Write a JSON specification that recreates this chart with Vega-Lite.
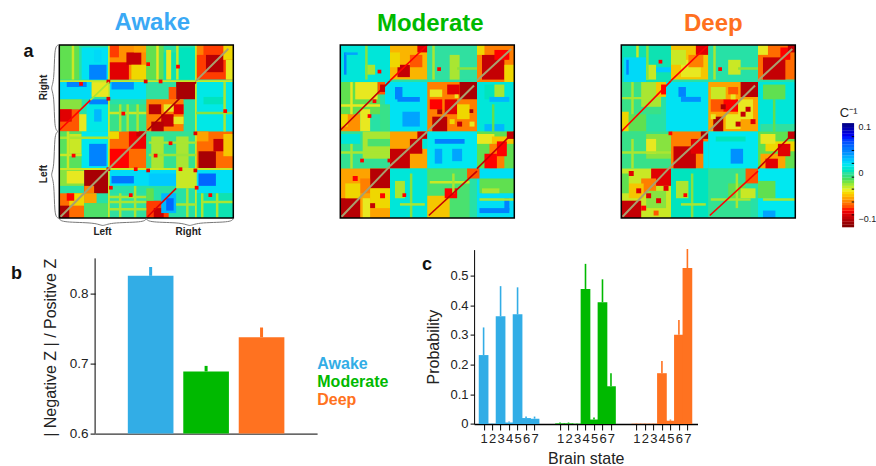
{"$schema":"https://vega.github.io/schema/vega-lite/v6.json","padding":{"left":10.3,"top":11,"right":70,"bottom":40},"background":"white","bounds":"flush","spacing":204.6,"resolve":{"scale":{"color":"independent"}},"config":{"font":"Liberation Sans","view":{"stroke":null},"axis":{"grid":false,"domainColor":"black","tickColor":"black","labelColor":"#222","titleColor":"#222","titleFontWeight":"normal","labelOverlap":false},"title":{"fontWeight":"bold"}},
"datasets":{
"braces":[{"b":"a","i":0,"x":0,"y":70.3},{"b":"a","i":1,"x":1,"y":71.8},{"b":"a","i":2,"x":15,"y":71.8},{"b":"a","i":3,"x":17.5,"y":73.6},{"b":"a","i":4,"x":20,"y":71.8},{"b":"a","i":5,"x":34,"y":71.8},{"b":"a","i":6,"x":35,"y":70.3},{"b":"b","i":0,"x":35,"y":70.3},{"b":"b","i":1,"x":36,"y":71.8},{"b":"b","i":2,"x":50,"y":71.8},{"b":"b","i":3,"x":52.5,"y":73.6},{"b":"b","i":4,"x":55,"y":71.8},{"b":"b","i":5,"x":69,"y":71.8},{"b":"b","i":6,"x":70,"y":70.3},{"b":"c","i":0,"x":-0.5,"y":0},{"b":"c","i":1,"x":-2,"y":1},{"b":"c","i":2,"x":-2,"y":15},{"b":"c","i":3,"x":-3.6,"y":17.5},{"b":"c","i":4,"x":-2,"y":20},{"b":"c","i":5,"x":-2,"y":34},{"b":"c","i":6,"x":-0.5,"y":35},{"b":"d","i":0,"x":-0.5,"y":35},{"b":"d","i":1,"x":-2,"y":36},{"b":"d","i":2,"x":-2,"y":50},{"b":"d","i":3,"x":-3.6,"y":52.5},{"b":"d","i":4,"x":-2,"y":55},{"b":"d","i":5,"x":-2,"y":69},{"b":"d","i":6,"x":-0.5,"y":70}],
"frame":[{"x":0,"x2":70,"y":0,"y2":70}],
"cbar":[{"y":-11.9,"y2":-11.25,"v":-11.6},{"y":-11.3,"y2":-10.65,"v":-11},{"y":-10.7,"y2":-10.05,"v":-10.4},{"y":-10.1,"y2":-9.45,"v":-9.8},{"y":-9.5,"y2":-8.85,"v":-9.2},{"y":-8.9,"y2":-8.25,"v":-8.6},{"y":-8.3,"y2":-7.65,"v":-8},{"y":-7.7,"y2":-7.05,"v":-7.4},{"y":-7.1,"y2":-6.45,"v":-6.8},{"y":-6.5,"y2":-5.85,"v":-6.2},{"y":-5.9,"y2":-5.25,"v":-5.6},{"y":-5.3,"y2":-4.65,"v":-5},{"y":-4.7,"y2":-4.05,"v":-4.4},{"y":-4.1,"y2":-3.45,"v":-3.8},{"y":-3.5,"y2":-2.85,"v":-3.2},{"y":-2.9,"y2":-2.25,"v":-2.6},{"y":-2.3,"y2":-1.65,"v":-2},{"y":-1.7,"y2":-1.05,"v":-1.4},{"y":-1.1,"y2":-0.45,"v":-0.8},{"y":-0.5,"y2":0.15,"v":-0.2},{"y":0.1,"y2":0.75,"v":0.4},{"y":0.7,"y2":1.35,"v":1},{"y":1.3,"y2":1.95,"v":1.6},{"y":1.9,"y2":2.55,"v":2.2},{"y":2.5,"y2":3.15,"v":2.8},{"y":3.1,"y2":3.75,"v":3.4},{"y":3.7,"y2":4.35,"v":4},{"y":4.3,"y2":4.95,"v":4.6},{"y":4.9,"y2":5.55,"v":5.2},{"y":5.5,"y2":6.15,"v":5.8},{"y":6.1,"y2":6.75,"v":6.4},{"y":6.7,"y2":7.35,"v":7},{"y":7.3,"y2":7.95,"v":7.6},{"y":7.9,"y2":8.55,"v":8.2},{"y":8.5,"y2":9.15,"v":8.8},{"y":9.1,"y2":9.75,"v":9.4},{"y":9.7,"y2":10.35,"v":10},{"y":10.3,"y2":10.75,"v":10.5}],
"cticks":[{"x":0.8,"x2":1,"y":7.8},{"x":0.8,"x2":1,"y":4.8},{"x":0.8,"x2":1,"y":2},{"x":0.8,"x2":1,"y":-1},{"x":0.8,"x2":1,"y":-3.6},{"x":0.8,"x2":1,"y":-6.4},{"x":0.8,"x2":1,"y":-9.2}],
"awake":[{"x":0,"x2":70,"y":0,"y2":70,"v":0.6},{"x":0,"x2":8,"y":0,"y2":14,"v":-1},{"x":9,"x2":20,"y":1,"y2":14,"v":2.2},{"x":12,"x2":19,"y":8,"y2":14,"v":5},{"x":14,"x2":17,"y":2,"y2":7,"v":2.5},{"x":20,"x2":35,"y":0,"y2":14,"v":-5.5},{"x":20,"x2":28,"y":7,"y2":14,"v":-9},{"x":27,"x2":33,"y":3,"y2":8,"v":-10},{"x":30,"x2":35,"y":0,"y2":3,"v":-5},{"x":29,"x2":35,"y":8,"y2":14,"v":-3.5},{"x":20,"x2":24,"y":0,"y2":5,"v":-7.5},{"x":35,"x2":42,"y":0,"y2":14,"v":-1},{"x":42,"x2":47,"y":3,"y2":14,"v":0.8},{"x":47,"x2":55,"y":1,"y2":14,"v":1},{"x":43,"x2":45,"y":2,"y2":14,"v":-3},{"x":55,"x2":70,"y":0,"y2":14,"v":-7.5},{"x":59,"x2":66,"y":4,"y2":11,"v":-10.5},{"x":66,"x2":70,"y":0,"y2":6,"v":-3.5},{"x":55,"x2":58,"y":0,"y2":4,"v":-6},{"x":67,"x2":70,"y":6,"y2":14,"v":-3},{"x":0,"x2":13,"y":15,"y2":22,"v":2.4},{"x":3,"x2":11,"y":15,"y2":17,"v":5},{"x":13,"x2":20,"y":15,"y2":21,"v":-3},{"x":20,"x2":35,"y":15,"y2":22,"v":2.2},{"x":21,"x2":30,"y":15,"y2":18,"v":4.5},{"x":35,"x2":47,"y":15,"y2":22,"v":0.5},{"x":47,"x2":55,"y":15,"y2":22,"v":-11},{"x":44,"x2":47,"y":17,"y2":24,"v":-7},{"x":55,"x2":70,"y":15,"y2":35,"v":1.8},{"x":58,"x2":66,"y":21,"y2":24,"v":1},{"x":0,"x2":9,"y":22,"y2":26,"v":-1.5},{"x":0,"x2":8,"y":26,"y2":35,"v":-7},{"x":0,"x2":5,"y":26,"y2":31,"v":-9},{"x":8,"x2":11,"y":28,"y2":35,"v":-3},{"x":11,"x2":20,"y":23,"y2":35,"v":1.8},{"x":12,"x2":20,"y":22,"y2":24,"v":5},{"x":14,"x2":17,"y":26,"y2":31,"v":3.5},{"x":20,"x2":35,"y":24,"y2":35,"v":0},{"x":20,"x2":35,"y":27,"y2":28,"v":-2.5},{"x":27,"x2":28,"y":24,"y2":35,"v":-2},{"x":35,"x2":50,"y":22,"y2":35,"v":-6},{"x":36,"x2":41,"y":24,"y2":28,"v":-10.5},{"x":41,"x2":46,"y":28,"y2":33,"v":-10},{"x":37,"x2":42,"y":31,"y2":35,"v":-10.5},{"x":46,"x2":50,"y":24,"y2":28,"v":-9},{"x":42,"x2":46,"y":24,"y2":27,"v":-3},{"x":46,"x2":50,"y":29,"y2":32,"v":-3},{"x":0,"x2":9,"y":35,"y2":50,"v":-0.8},{"x":4,"x2":9,"y":36,"y2":44,"v":-2.5},{"x":9,"x2":20,"y":35,"y2":50,"v":2},{"x":12,"x2":19,"y":40,"y2":49,"v":5},{"x":20,"x2":35,"y":35,"y2":50,"v":-6.5},{"x":20,"x2":28,"y":42,"y2":50,"v":-8},{"x":28,"x2":35,"y":35,"y2":42,"v":-8.5},{"x":31,"x2":35,"y":35,"y2":37,"v":-10},{"x":20,"x2":24,"y":35,"y2":38,"v":-3.5},{"x":35,"x2":55,"y":35,"y2":50,"v":0.2},{"x":37,"x2":42,"y":37,"y2":50,"v":-2},{"x":47,"x2":52,"y":37,"y2":50,"v":-2},{"x":55,"x2":70,"y":35,"y2":50,"v":-6.5},{"x":56,"x2":63,"y":43,"y2":50,"v":-11},{"x":62,"x2":67,"y":38,"y2":43,"v":-10},{"x":55,"x2":60,"y":35,"y2":39,"v":-5},{"x":66,"x2":70,"y":36,"y2":45,"v":-4},{"x":0,"x2":10,"y":50,"y2":57,"v":-1.5},{"x":3,"x2":10,"y":51,"y2":56,"v":-3},{"x":10,"x2":20,"y":50,"y2":60,"v":-11},{"x":10,"x2":14,"y":57,"y2":60,"v":-6},{"x":20,"x2":47,"y":50,"y2":57,"v":2.4},{"x":21,"x2":30,"y":53,"y2":56,"v":5.5},{"x":36,"x2":47,"y":52,"y2":57,"v":3},{"x":47,"x2":55,"y":50,"y2":58,"v":-2.5},{"x":55,"x2":70,"y":50,"y2":60,"v":2.3},{"x":56,"x2":63,"y":52,"y2":57,"v":6},{"x":0,"x2":10,"y":60,"y2":70,"v":-6.5},{"x":0,"x2":4,"y":65,"y2":70,"v":-11},{"x":4,"x2":10,"y":60,"y2":65,"v":-3.5},{"x":3,"x2":6,"y":60,"y2":63,"v":-8},{"x":10,"x2":15,"y":60,"y2":64,"v":-5},{"x":10,"x2":20,"y":64,"y2":70,"v":-0.6},{"x":20,"x2":35,"y":60,"y2":70,"v":0.5},{"x":20,"x2":35,"y":61,"y2":62,"v":-2},{"x":35,"x2":44,"y":63,"y2":70,"v":-7.5},{"x":38,"x2":42,"y":66,"y2":70,"v":-10},{"x":35,"x2":38,"y":58,"y2":63,"v":-1},{"x":41,"x2":47,"y":60,"y2":68,"v":3.5},{"x":43,"x2":46,"y":62,"y2":67,"v":6},{"x":55,"x2":70,"y":60,"y2":70,"v":0.8},{"x":57,"x2":58,"y":60,"y2":70,"v":-2},{"x":0,"x2":70,"y":14.3,"y2":15,"v":-2.5},{"x":0,"x2":70,"y":49.8,"y2":50.6,"v":-2.5},{"x":19.6,"x2":20.3,"y":0,"y2":70,"v":-2.5},{"x":54.6,"x2":55.3,"y":0,"y2":70,"v":-2.5},{"x":0,"x2":20,"y":37,"y2":38,"v":-2},{"x":0,"x2":9,"y":44,"y2":45,"v":-2.5},{"x":36,"x2":55,"y":39,"y2":40,"v":-2},{"x":36,"x2":55,"y":44,"y2":45,"v":-1.8},{"x":55,"x2":70,"y":27,"y2":28,"v":-1.5},{"x":20,"x2":35,"y":63,"y2":64,"v":-2},{"x":20,"x2":35,"y":66,"y2":67,"v":-2},{"x":47,"x2":55,"y":64,"y2":65,"v":-2},{"x":57,"x2":70,"y":63,"y2":64,"v":-2},{"x":24,"x2":25,"y":60,"y2":70,"v":-2},{"x":30,"x2":31,"y":57,"y2":70,"v":-2},{"x":51,"x2":52,"y":58,"y2":70,"v":-2},{"x":63,"x2":64,"y":60,"y2":70,"v":-2},{"x":39,"x2":40,"y":0,"y2":14,"v":-3},{"x":47,"x2":48,"y":0,"y2":14,"v":-2.5},{"x":5,"x2":6,"y":0,"y2":14,"v":-2.5},{"x":3,"x2":4,"y":35,"y2":50,"v":-2.5},{"x":24,"x2":25,"y":24,"y2":35,"v":-2},{"x":31,"x2":32,"y":24,"y2":35,"v":-2},{"x":66,"x2":67,"y":15,"y2":35,"v":-2},{"x":19,"x2":20.5,"y":14,"y2":15.5,"v":-9},{"x":19,"x2":20.5,"y":21,"y2":22.5,"v":-9},{"x":34,"x2":35.5,"y":14,"y2":15.5,"v":-9},{"x":40,"x2":41.5,"y":14,"y2":15.5,"v":-8},{"x":19,"x2":20.5,"y":49.5,"y2":51,"v":-9},{"x":30,"x2":31.5,"y":49.5,"y2":51,"v":-8},{"x":35,"x2":36.5,"y":50,"y2":51.5,"v":-9},{"x":48,"x2":49.5,"y":49.5,"y2":51,"v":-8},{"x":54,"x2":55.5,"y":35,"y2":36.5,"v":-9},{"x":54,"x2":55.5,"y":50,"y2":51.5,"v":-9},{"x":54.5,"x2":56,"y":57,"y2":58.5,"v":-8},{"x":28,"x2":29.5,"y":60,"y2":61.5,"v":-8},{"x":20,"x2":21.5,"y":57,"y2":58.5,"v":-8},{"x":8,"x2":9.5,"y":15,"y2":16.5,"v":-8},{"x":47,"x2":48.5,"y":8,"y2":9.5,"v":-8},{"x":35,"x2":36.5,"y":7,"y2":8.5,"v":-8},{"x":60,"x2":61.5,"y":60,"y2":61.5,"v":-8},{"x":66,"x2":67.5,"y":26,"y2":27.5,"v":-8},{"x":25,"x2":26.5,"y":27,"y2":28.5,"v":-8},{"x":5,"x2":6.5,"y":44,"y2":45.5,"v":-8},{"x":38,"x2":39.5,"y":44,"y2":45.5,"v":-8},{"x":44,"x2":45.5,"y":39,"y2":40.5,"v":-8}],
"awakeDiag":[{"x":0,"y":34.5,"x2":12.5,"y2":22.3,"v":-8},{"x":35.5,"y":69.5,"x2":47,"y2":58,"v":-9},{"x":35.5,"y":34.5,"x2":55,"y2":15,"v":-11},{"x":12.5,"y":22.3,"x2":20,"y2":15,"v":-2}],
"awakeGray":[{"x":0.5,"y":69.5,"x2":20,"y2":50},{"x":20,"y":50,"x2":35,"y2":35},{"x":55,"y":14.5,"x2":68,"y2":1.5}],
"moderate":[{"x":0,"x2":70,"y":0,"y2":70,"v":0.6},{"x":0,"x2":20,"y":0,"y2":15,"v":1.5},{"x":1.5,"x2":2.5,"y":3,"y2":12,"v":5},{"x":2,"x2":7,"y":3,"y2":4,"v":4},{"x":10,"x2":14,"y":8,"y2":12,"v":-2},{"x":20,"x2":35,"y":0,"y2":14,"v":-4.5},{"x":23,"x2":28,"y":8,"y2":13,"v":-10},{"x":28,"x2":33,"y":4,"y2":9,"v":-7},{"x":31,"x2":35,"y":0,"y2":3,"v":-9},{"x":20,"x2":24,"y":3,"y2":9,"v":-3.5},{"x":35,"x2":55,"y":0,"y2":14,"v":0.5},{"x":44,"x2":48,"y":4,"y2":14,"v":-2},{"x":55,"x2":70,"y":0,"y2":15,"v":-6},{"x":57,"x2":66,"y":4,"y2":14,"v":-10},{"x":62,"x2":68,"y":2,"y2":6,"v":-8},{"x":55,"x2":58,"y":0,"y2":4,"v":-3.5},{"x":66,"x2":70,"y":8,"y2":15,"v":-3.5},{"x":0,"x2":16,"y":15,"y2":28,"v":-1},{"x":6,"x2":15,"y":15,"y2":22,"v":-3},{"x":15,"x2":20,"y":15,"y2":20,"v":-7},{"x":16,"x2":19,"y":16,"y2":19,"v":-10},{"x":0,"x2":8,"y":28,"y2":35,"v":-5.5},{"x":0,"x2":3,"y":28,"y2":33,"v":-3.5},{"x":8,"x2":12,"y":26,"y2":35,"v":-3},{"x":18,"x2":35,"y":15,"y2":35,"v":2.2},{"x":22,"x2":25,"y":17,"y2":22,"v":5},{"x":23,"x2":32,"y":21,"y2":23,"v":5},{"x":25,"x2":32,"y":27,"y2":33,"v":4},{"x":16,"x2":20,"y":24,"y2":35,"v":0},{"x":35,"x2":55,"y":15,"y2":35,"v":-6},{"x":48,"x2":55,"y":15,"y2":22,"v":-11},{"x":37,"x2":43,"y":29,"y2":35,"v":-10.5},{"x":42,"x2":47,"y":22,"y2":28,"v":-9},{"x":36,"x2":41,"y":18,"y2":21,"v":-3},{"x":43,"x2":48,"y":16,"y2":20,"v":-9},{"x":47,"x2":52,"y":24,"y2":30,"v":-3.5},{"x":36,"x2":41,"y":22,"y2":26,"v":-8},{"x":55,"x2":70,"y":15,"y2":35,"v":1.5},{"x":58,"x2":66,"y":16,"y2":22,"v":1},{"x":60,"x2":68,"y":21,"y2":23,"v":3.5},{"x":62,"x2":66,"y":16,"y2":21,"v":-2},{"x":58,"x2":66,"y":32,"y2":35,"v":3.5},{"x":0,"x2":20,"y":35,"y2":50,"v":0.2},{"x":9,"x2":20,"y":35,"y2":46,"v":-2},{"x":11,"x2":20,"y":38,"y2":41,"v":-0.5},{"x":0,"x2":8,"y":36,"y2":40,"v":1.5},{"x":20,"x2":35,"y":35,"y2":50,"v":-5},{"x":20,"x2":28,"y":42,"y2":50,"v":-10},{"x":28,"x2":33,"y":38,"y2":44,"v":-10},{"x":31,"x2":35,"y":35,"y2":38,"v":-10},{"x":33,"x2":35,"y":38,"y2":42,"v":1.5},{"x":35,"x2":55,"y":35,"y2":50,"v":2},{"x":38,"x2":50,"y":38,"y2":40,"v":5},{"x":38,"x2":41,"y":42,"y2":48,"v":4},{"x":45,"x2":49,"y":42,"y2":47,"v":4},{"x":55,"x2":70,"y":35,"y2":50,"v":-1},{"x":55,"x2":62,"y":36,"y2":40,"v":-3},{"x":61,"x2":70,"y":37,"y2":40,"v":-4},{"x":60,"x2":66,"y":40,"y2":50,"v":-6},{"x":63,"x2":67,"y":39,"y2":45,"v":-8},{"x":58,"x2":63,"y":44,"y2":50,"v":-8},{"x":67,"x2":70,"y":35,"y2":38,"v":-10},{"x":0,"x2":20,"y":50,"y2":70,"v":-5},{"x":12,"x2":20,"y":50,"y2":58,"v":-10.5},{"x":0,"x2":8,"y":62,"y2":70,"v":-10.5},{"x":8,"x2":12,"y":54,"y2":60,"v":-6},{"x":2,"x2":8,"y":56,"y2":62,"v":-3.5},{"x":12,"x2":20,"y":58,"y2":66,"v":-3.5},{"x":9,"x2":12,"y":62,"y2":70,"v":-3},{"x":20,"x2":35,"y":50,"y2":70,"v":1.5},{"x":22,"x2":26,"y":55,"y2":62,"v":-2},{"x":35,"x2":52,"y":50,"y2":70,"v":-0.5},{"x":35,"x2":44,"y":61,"y2":70,"v":-4},{"x":42,"x2":47,"y":58,"y2":62,"v":-8},{"x":55,"x2":70,"y":50,"y2":70,"v":2.3},{"x":51,"x2":56,"y":50,"y2":54,"v":-7},{"x":56,"x2":70,"y":54,"y2":60,"v":-1},{"x":57,"x2":64,"y":58,"y2":60,"v":-2},{"x":56,"x2":68,"y":66,"y2":68,"v":5},{"x":66,"x2":68,"y":62,"y2":67,"v":5},{"x":10,"x2":11,"y":0,"y2":14,"v":-1.5},{"x":37,"x2":38,"y":0,"y2":14,"v":-2},{"x":47,"x2":55,"y":9,"y2":10,"v":-1.5},{"x":0,"x2":16,"y":24,"y2":25,"v":-3},{"x":4,"x2":5,"y":15,"y2":28,"v":-3},{"x":61,"x2":62,"y":24,"y2":35,"v":-1},{"x":0,"x2":20,"y":43,"y2":44,"v":-2},{"x":4,"x2":5,"y":40,"y2":50,"v":-2},{"x":56,"x2":70,"y":62,"y2":63,"v":-2},{"x":36,"x2":52,"y":55,"y2":56,"v":-2.5},{"x":45,"x2":46,"y":52,"y2":60,"v":-2},{"x":28,"x2":29,"y":52,"y2":70,"v":-1.5},{"x":24,"x2":34,"y":64,"y2":65,"v":-2},{"x":13,"x2":14.5,"y":22,"y2":23.5,"v":-8},{"x":19,"x2":20.5,"y":46,"y2":47.5,"v":-9},{"x":11,"x2":12.5,"y":28,"y2":29.5,"v":-8},{"x":25,"x2":26.5,"y":60,"y2":61.5,"v":-8},{"x":8,"x2":9.5,"y":46,"y2":47.5,"v":-8},{"x":39,"x2":40.5,"y":9,"y2":10.5,"v":-8},{"x":15,"x2":16.5,"y":10,"y2":11.5,"v":-8},{"x":46,"x2":47.5,"y":20,"y2":21.5,"v":-3},{"x":52,"x2":53.5,"y":26,"y2":27.5,"v":-11},{"x":39,"x2":41,"y":26,"y2":28,"v":-11},{"x":47,"x2":49,"y":31,"y2":33,"v":-10},{"x":52,"x2":54,"y":31,"y2":33,"v":-3},{"x":44,"x2":46,"y":30,"y2":32,"v":-3.5},{"x":12,"x2":14,"y":64,"y2":66,"v":-10},{"x":5,"x2":7,"y":53,"y2":55,"v":-8},{"x":16,"x2":18,"y":60,"y2":62,"v":-8}],
"moderateDiag":[{"x":0,"y":34.5,"x2":20,"y2":14.5,"v":-10},{"x":35.6,"y":69,"x2":55,"y2":51,"v":-10},{"x":20,"y":14.4,"x2":35,"y2":0,"v":-8},{"x":55,"y":50,"x2":70,"y2":35,"v":-10}],
"moderateGray":[{"x":0.5,"y":69.5,"x2":20,"y2":49},{"x":20,"y":49,"x2":35,"y2":35},{"x":35.6,"y":34.5,"x2":53.8,"y2":16.4},{"x":55,"y":14.4,"x2":68.8,"y2":1.6}],
"deep":[{"x":0,"x2":70,"y":0,"y2":70,"v":0.6},{"x":0,"x2":20,"y":0,"y2":15,"v":0.8},{"x":1,"x2":10,"y":5,"y2":15,"v":2.5},{"x":2,"x2":3,"y":6,"y2":12,"v":5},{"x":10,"x2":14,"y":8,"y2":14,"v":-2.5},{"x":14,"x2":20,"y":9,"y2":11,"v":3},{"x":20,"x2":35,"y":0,"y2":14,"v":-4},{"x":24,"x2":32,"y":6,"y2":13,"v":-3},{"x":30,"x2":35,"y":0,"y2":4,"v":-9},{"x":20,"x2":26,"y":2,"y2":8,"v":-2.5},{"x":27,"x2":33,"y":4,"y2":9,"v":-6},{"x":35,"x2":55,"y":0,"y2":14,"v":0.6},{"x":43,"x2":48,"y":6,"y2":12,"v":-2.5},{"x":55,"x2":70,"y":0,"y2":14,"v":-6.5},{"x":57,"x2":66,"y":5,"y2":14,"v":-10},{"x":64,"x2":68,"y":1,"y2":6,"v":-8},{"x":67,"x2":70,"y":0,"y2":3,"v":-10},{"x":55,"x2":59,"y":0,"y2":4,"v":-3},{"x":0,"x2":16,"y":15,"y2":28,"v":0},{"x":8,"x2":16,"y":15,"y2":25,"v":-2},{"x":14,"x2":19,"y":15,"y2":21,"v":-4},{"x":16,"x2":18,"y":16,"y2":20,"v":-8},{"x":0,"x2":3,"y":27,"y2":35,"v":-3.5},{"x":3,"x2":10,"y":28,"y2":35,"v":-1},{"x":18,"x2":35,"y":15,"y2":35,"v":2.2},{"x":23,"x2":26,"y":17,"y2":21,"v":5},{"x":24,"x2":32,"y":21,"y2":23,"v":4.5},{"x":35,"x2":55,"y":15,"y2":35,"v":-5},{"x":37,"x2":41,"y":29,"y2":35,"v":-11},{"x":48,"x2":55,"y":15,"y2":21,"v":-10.5},{"x":36,"x2":42,"y":17,"y2":22,"v":-2.5},{"x":41,"x2":47,"y":22,"y2":27,"v":-8},{"x":47,"x2":53,"y":22,"y2":30,"v":-3},{"x":36,"x2":41,"y":22,"y2":27,"v":-7},{"x":42,"x2":48,"y":28,"y2":34,"v":-3},{"x":43,"x2":47,"y":17,"y2":20,"v":-7},{"x":55,"x2":70,"y":15,"y2":35,"v":1.5},{"x":57,"x2":66,"y":16,"y2":22,"v":-1},{"x":56,"x2":70,"y":32,"y2":35,"v":0.5},{"x":0,"x2":20,"y":35,"y2":50,"v":0},{"x":10,"x2":20,"y":36,"y2":46,"v":-1.5},{"x":10,"x2":14,"y":38,"y2":44,"v":-3},{"x":20,"x2":35,"y":35,"y2":50,"v":-6},{"x":21,"x2":30,"y":41,"y2":50,"v":-10},{"x":28,"x2":33,"y":38,"y2":44,"v":-9},{"x":32,"x2":35,"y":35,"y2":38,"v":-11},{"x":33,"x2":35,"y":39,"y2":50,"v":2},{"x":35,"x2":55,"y":35,"y2":50,"v":2},{"x":44,"x2":49,"y":42,"y2":48,"v":4.5},{"x":38,"x2":50,"y":37,"y2":39,"v":1},{"x":55,"x2":70,"y":35,"y2":50,"v":-1},{"x":58,"x2":70,"y":39,"y2":43,"v":-3.5},{"x":56,"x2":66,"y":44,"y2":50,"v":-5},{"x":58,"x2":63,"y":46,"y2":50,"v":-9},{"x":63,"x2":68,"y":40,"y2":45,"v":-9},{"x":67,"x2":70,"y":35,"y2":38,"v":-10},{"x":56,"x2":62,"y":36,"y2":40,"v":-3},{"x":0,"x2":20,"y":50,"y2":70,"v":-2.5},{"x":12,"x2":20,"y":50,"y2":57,"v":-9},{"x":0,"x2":8,"y":63,"y2":70,"v":-10},{"x":8,"x2":14,"y":54,"y2":60,"v":-6},{"x":3,"x2":9,"y":56,"y2":62,"v":-4},{"x":10,"x2":18,"y":59,"y2":66,"v":-1.5},{"x":0,"x2":3,"y":52,"y2":60,"v":-1},{"x":20,"x2":35,"y":50,"y2":70,"v":1},{"x":22,"x2":27,"y":55,"y2":62,"v":-2},{"x":35,"x2":52,"y":50,"y2":70,"v":0.2},{"x":43,"x2":50,"y":56,"y2":62,"v":-1},{"x":48,"x2":54,"y":58,"y2":62,"v":-2.5},{"x":55,"x2":70,"y":50,"y2":70,"v":2},{"x":50,"x2":55,"y":50,"y2":56,"v":-7},{"x":55,"x2":62,"y":55,"y2":62,"v":-1},{"x":57,"x2":62,"y":67,"y2":70,"v":4},{"x":10,"x2":11,"y":0,"y2":14,"v":-1.5},{"x":6,"x2":7,"y":0,"y2":5,"v":-2.5},{"x":37,"x2":38,"y":0,"y2":14,"v":-2},{"x":47,"x2":55,"y":9,"y2":10,"v":-1.5},{"x":4,"x2":5,"y":15,"y2":28,"v":-2},{"x":0,"x2":16,"y":21,"y2":22,"v":-2},{"x":61,"x2":62,"y":22,"y2":35,"v":-1},{"x":0,"x2":20,"y":43,"y2":44,"v":-2},{"x":4,"x2":5,"y":38,"y2":50,"v":-2},{"x":57,"x2":70,"y":62,"y2":63,"v":-2},{"x":36,"x2":52,"y":62,"y2":63,"v":-2},{"x":46,"x2":47,"y":52,"y2":66,"v":-2},{"x":28,"x2":29,"y":52,"y2":70,"v":-1.5},{"x":24,"x2":34,"y":64,"y2":65,"v":-2},{"x":3,"x2":5,"y":51,"y2":53,"v":-9},{"x":6,"x2":8,"y":58,"y2":60,"v":-9},{"x":10,"x2":12,"y":60,"y2":62,"v":-9},{"x":14,"x2":16,"y":62,"y2":64,"v":-9},{"x":17,"x2":19,"y":57,"y2":59,"v":-9},{"x":8,"x2":10,"y":65,"y2":67,"v":-8},{"x":13,"x2":15,"y":67,"y2":69,"v":-7},{"x":40,"x2":42,"y":24,"y2":26,"v":-11},{"x":46,"x2":48,"y":31,"y2":33,"v":-10},{"x":50,"x2":52,"y":25,"y2":27,"v":-10},{"x":52,"x2":54,"y":30,"y2":32,"v":-9},{"x":44,"x2":46,"y":20,"y2":22,"v":-3},{"x":48,"x2":50,"y":27,"y2":29,"v":-10},{"x":36,"x2":38,"y":28,"y2":30,"v":-3},{"x":19,"x2":20.5,"y":35,"y2":36.5,"v":-8},{"x":39,"x2":40.5,"y":9,"y2":10.5,"v":-8},{"x":15,"x2":16.5,"y":6,"y2":7.5,"v":-8},{"x":25,"x2":26.5,"y":60,"y2":61.5,"v":-8}],
"deepDiag":[{"x":0,"y":35,"x2":20,"y2":14.5,"v":-8},{"x":35.6,"y":69,"x2":55,"y2":51,"v":-8},{"x":20,"y":14.4,"x2":35,"y2":0,"v":-8},{"x":55,"y":50,"x2":70,"y2":35,"v":-10}],
"deepGray":[{"x":0.5,"y":69.5,"x2":20,"y2":49},{"x":20,"y":49,"x2":35,"y2":35},{"x":35.6,"y":34.5,"x2":53.8,"y2":16.4},{"x":55,"y":14.4,"x2":68.8,"y2":1.6}],
"ratio":[{"g":"Awake","v":0.826,"e":0.8387},{"g":"Moderate","v":0.689,"e":0.697},{"g":"Deep","v":0.738,"e":0.752}],
"axisb":[{"a":0.6,"b":0.851}],
"prob":[{"g":"Awake","s":0,"v":0.232,"e":0.325},{"g":"Awake","s":1,"v":0.001,"e":0.002},{"g":"Awake","s":2,"v":0.3626,"e":0.464},{"g":"Awake","s":3,"v":0.005,"e":0.008},{"g":"Awake","s":4,"v":0.369,"e":0.46},{"g":"Awake","s":5,"v":0.02,"e":0.025},{"g":"Awake","s":6,"v":0.018,"e":0.025},{"g":"Moderate","s":9,"v":0.002,"e":0.005},{"g":"Moderate","s":10,"v":0.002,"e":0.005},{"g":"Moderate","s":11,"v":0.001,"e":0.002},{"g":"Moderate","s":12,"v":0.454,"e":0.539},{"g":"Moderate","s":13,"v":0.015,"e":0.022},{"g":"Moderate","s":14,"v":0.41,"e":0.487},{"g":"Moderate","s":15,"v":0.127,"e":0.171},{"g":"Deep","s":18,"v":0.001,"e":0.002},{"g":"Deep","s":19,"v":0.001,"e":0.002},{"g":"Deep","s":20,"v":0.001,"e":0.002},{"g":"Deep","s":21,"v":0.171,"e":0.212},{"g":"Deep","s":22,"v":0.011,"e":0.015},{"g":"Deep","s":23,"v":0.3,"e":0.35},{"g":"Deep","s":24,"v":0.525,"e":0.589}]
},
"vconcat":[
{"hconcat":[
{"hconcat":[
{"width":174,"height":173,"title":{"text":"Awake","color":"#3aa9f5","fontSize":24,"dx":6,"offset":8},
"layer":[
{"data":{"name":"awake"},"mark":"rect","encoding":{"x":{"field":"x","type":"quantitative","axis":null,"scale":{"domain":[0,70]}},"x2":{"field":"x2"},"y":{"field":"y","type":"quantitative","axis":null,"scale":{"domain":[0,70],"reverse":true}},"y2":{"field":"y2"},"color":{"field":"v","type":"quantitative","legend":null,"scale":{"domain":[-12.5,-8,-5.5,-3,-1,0.5,2,4.5,8,10.2],"range":["#7f0000","#ff0000","#ff9000","#e8e820","#60e050","#30e0a0","#00e8f0","#0090ff","#0000ff","#00007f"]}}}},
{"data":{"name":"awakeDiag"},"mark":{"type":"rule","strokeWidth":1.6},"encoding":{"x":{"field":"x","type":"quantitative"},"x2":{"field":"x2"},"y":{"field":"y","type":"quantitative"},"y2":{"field":"y2"},"color":{"field":"v","type":"quantitative","legend":null}}},
{"data":{"name":"awakeGray"},"mark":{"type":"rule","strokeWidth":2,"color":"#a8a070"},"encoding":{"x":{"field":"x","type":"quantitative"},"x2":{"field":"x2"},"y":{"field":"y","type":"quantitative"},"y2":{"field":"y2"}}},
{"data":{"name":"frame"},"mark":{"type":"rect","filled":false,"stroke":"black","strokeWidth":1.5},"encoding":{"x":{"field":"x","type":"quantitative"},"x2":{"field":"x2"},"y":{"field":"y","type":"quantitative"},"y2":{"field":"y2"}}},
{"data":{"name":"braces"},"mark":{"type":"line","interpolate":"basis","stroke":"#777","strokeWidth":1,"clip":false},"encoding":{"x":{"field":"x","type":"quantitative"},"y":{"field":"y","type":"quantitative"},"detail":{"field":"b"},"order":{"field":"i"}}},
{"data":{"values":[{"t":"Left","x":17.4,"y":75.8},{"t":"Right","x":51.9,"y":75.8}]},"mark":{"type":"text","fontSize":10,"fontWeight":"bold","color":"#222","baseline":"middle"},"encoding":{"x":{"field":"x","type":"quantitative"},"y":{"field":"y","type":"quantitative"},"text":{"field":"t"}}},
{"data":{"values":[{"t":"Right","x":-6.3,"y":17.2},{"t":"Left","x":-6.3,"y":52.2}]},"mark":{"type":"text","fontSize":10,"fontWeight":"bold","color":"#222","angle":270,"baseline":"middle"},"encoding":{"x":{"field":"x","type":"quantitative"},"y":{"field":"y","type":"quantitative"},"text":{"field":"t"}}},
{"data":{"values":[{"t":"a","x":-14.4,"y":5}]},"mark":{"type":"text","fontSize":18,"fontWeight":"bold","color":"#111","align":"left","baseline":"alphabetic"},"encoding":{"x":{"field":"x","type":"quantitative"},"y":{"field":"y","type":"quantitative"},"text":{"field":"t"}}}
]},
{"width":174,"height":173,"title":{"text":"Moderate","color":"#00b900","fontSize":24,"dx":3,"offset":8},
"layer":[
{"data":{"name":"moderate"},"mark":"rect","encoding":{"x":{"field":"x","type":"quantitative","axis":null,"scale":{"domain":[0,70]}},"x2":{"field":"x2"},"y":{"field":"y","type":"quantitative","axis":null,"scale":{"domain":[0,70],"reverse":true}},"y2":{"field":"y2"},"color":{"field":"v","type":"quantitative","legend":null,"scale":{"domain":[-12.5,-8,-5.5,-3,-1,0.5,2,4.5,8,10.2],"range":["#7f0000","#ff0000","#ff9000","#e8e820","#60e050","#30e0a0","#00e8f0","#0090ff","#0000ff","#00007f"]}}}},
{"data":{"name":"moderateDiag"},"mark":{"type":"rule","strokeWidth":1.6},"encoding":{"x":{"field":"x","type":"quantitative"},"x2":{"field":"x2"},"y":{"field":"y","type":"quantitative"},"y2":{"field":"y2"},"color":{"field":"v","type":"quantitative","legend":null}}},
{"data":{"name":"moderateGray"},"mark":{"type":"rule","strokeWidth":2,"color":"#a8a070"},"encoding":{"x":{"field":"x","type":"quantitative"},"x2":{"field":"x2"},"y":{"field":"y","type":"quantitative"},"y2":{"field":"y2"}}},
{"data":{"name":"frame"},"mark":{"type":"rect","filled":false,"stroke":"black","strokeWidth":1.5},"encoding":{"x":{"field":"x","type":"quantitative"},"x2":{"field":"x2"},"y":{"field":"y","type":"quantitative"},"y2":{"field":"y2"}}}
]},
{"width":174,"height":173,"title":{"text":"Deep","color":"#ff7020","fontSize":24,"dx":5,"offset":8},
"layer":[
{"data":{"name":"deep"},"mark":"rect","encoding":{"x":{"field":"x","type":"quantitative","axis":null,"scale":{"domain":[0,70]}},"x2":{"field":"x2"},"y":{"field":"y","type":"quantitative","axis":null,"scale":{"domain":[0,70],"reverse":true}},"y2":{"field":"y2"},"color":{"field":"v","type":"quantitative","legend":null,"scale":{"domain":[-12.5,-8,-5.5,-3,-1,0.5,2,4.5,8,10.2],"range":["#7f0000","#ff0000","#ff9000","#e8e820","#60e050","#30e0a0","#00e8f0","#0090ff","#0000ff","#00007f"]}}}},
{"data":{"name":"deepDiag"},"mark":{"type":"rule","strokeWidth":1.6},"encoding":{"x":{"field":"x","type":"quantitative"},"x2":{"field":"x2"},"y":{"field":"y","type":"quantitative"},"y2":{"field":"y2"},"color":{"field":"v","type":"quantitative","legend":null}}},
{"data":{"name":"deepGray"},"mark":{"type":"rule","strokeWidth":2,"color":"#a8a070"},"encoding":{"x":{"field":"x","type":"quantitative"},"x2":{"field":"x2"},"y":{"field":"y","type":"quantitative"},"y2":{"field":"y2"}}},
{"data":{"name":"frame"},"mark":{"type":"rect","filled":false,"stroke":"black","strokeWidth":1.5},"encoding":{"x":{"field":"x","type":"quantitative"},"x2":{"field":"x2"},"y":{"field":"y","type":"quantitative"},"y2":{"field":"y2"}}}
]}
],"spacing":107,"bounds":"flush"},
{"width":12,"height":182.3,"layer":[
{"data":{"name":"cbar"},"mark":"rect","encoding":{"x":{"datum":0,"type":"quantitative","axis":null,"scale":{"domain":[0,1]}},"x2":{"datum":1},"y":{"field":"y","type":"quantitative","scale":{"domain":[-11.9,27.73],"nice":false,"zero":false},"axis":{"orient":"right","values":[-10,0,10],"labelExpr":"datum.value==0?'0':format(datum.value/100,'.1f')","domain":false,"ticks":false,"labelPadding":4,"labelFontSize":9,"title":null,"tickCount":100}},"y2":{"field":"y2"},"color":{"field":"v","type":"quantitative","legend":null,"scale":{"domain":[-11.8,-8.1,-6,-3.9,-1.6,-0.15,1.65,4.2,7.8,10.7],"range":["#7f0000","#ff0000","#ff9000","#f0f020","#50e050","#30e0a0","#00e8f0","#0090ff","#0000ff","#00007f"]}}}},
{"data":{"name":"cticks"},"mark":{"type":"rule","color":"black","strokeWidth":1},"encoding":{"x":{"field":"x","type":"quantitative"},"x2":{"field":"x2"},"y":{"field":"y","type":"quantitative"}}},
{"data":{"values":[{"t":"C⁻¹","x":0.55,"y":12.9}]},"mark":{"type":"text","fontSize":13,"color":"#222","baseline":"middle"},"encoding":{"x":{"field":"x","type":"quantitative"},"y":{"field":"y","type":"quantitative"},"text":{"field":"t"}}}
]}
],"spacing":782.8,"bounds":"flush","resolve":{"scale":{"color":"independent"}}},
{"hconcat":[
{"width":1,"height":1,"data":{"values":[{"s":1}]},"mark":{"type":"point","opacity":0},"encoding":{}},
{"hconcat":[
{"width":222,"height":184,"title":{"text":"b","fontSize":18,"anchor":"start","frame":"group","color":"#111","dx":-84,"dy":33,"offset":0},
"layer":[
{"data":{"name":"ratio"},"mark":{"type":"bar"},"encoding":{"x":{"field":"g","type":"nominal","sort":["Awake","Moderate","Deep"],"scale":{"paddingInner":0.177,"paddingOuter":0.59},"axis":{"title":null,"labels":false,"ticks":false,"domainColor":"black"}},"y":{"field":"v","type":"quantitative","scale":{"domain":[0.6,0.8636],"nice":false,"zero":false},"axis":{"values":[0.6,0.7,0.8],"format":".1f","domain":false,"tickSize":5,"labelFontSize":13.5,"title":"| Negative Z | / Positive Z","titleFontSize":16,"titlePadding":11,"titleY":97.7}},"y2":{"datum":0.6},"color":{"field":"g","type":"nominal","sort":["Awake","Moderate","Deep"],"scale":{"domain":["Awake","Moderate","Deep"],"range":["#32ade6","#00b900","#ff7220"]},"legend":{"orient":"none","legendX":238,"legendY":106,"title":null,"symbolOpacity":0,"symbolSize":0,"labelFontSize":16,"labelFontWeight":"bold","encode":{"labels":{"update":{"fill":{"signal":"datum.value=='Awake'?'#32ade6':datum.value=='Moderate'?'#00b900':'#ff7220'"}}}}}}}},
{"data":{"name":"ratio"},"mark":{"type":"rule","strokeWidth":3},"encoding":{"x":{"field":"g","type":"nominal","sort":["Awake","Moderate","Deep"]},"y":{"field":"v","type":"quantitative"},"y2":{"field":"e"},"color":{"field":"g","type":"nominal","legend":null}}},
{"data":{"name":"axisb"},"mark":{"type":"rule","color":"black","strokeWidth":1},"encoding":{"x":{"value":0},"y":{"field":"a","type":"quantitative"},"y2":{"field":"b"}}}
]},
{"width":223.4,"height":174.4,"title":{"text":"c","fontSize":18,"anchor":"start","frame":"group","color":"#111","dx":-52,"dy":25.5,"offset":0},
"data":{"name":"prob"},
"layer":[
{"mark":{"type":"bar","size":9.7},"encoding":{"x":{"field":"s","type":"quantitative","scale":{"domain":[-0.53,24.6],"nice":false,"zero":false},"axis":{"values":[0,1,2,3,4,5,6,9,10,11,12,13,14,15,18,19,20,21,22,23,24],"tickCount":100,"labelExpr":"(datum.value%9)+1","labelOverlap":false,"labelBound":false,"labelFlush":false,"labelAngle":0,"labelFontSize":13,"labelPadding":3,"tickSize":6,"domainWidth":1.5,"title":"Brain state","titleFontSize":16,"titlePadding":5}},"y":{"field":"v","type":"quantitative","scale":{"domain":[0,0.587],"nice":false},"axis":{"values":[0,0.1,0.2,0.3,0.4,0.5],"tickCount":100,"labelExpr":"datum.value==0?'0':format(datum.value,'.1f')","labelOverlap":false,"labelBound":false,"labelFlush":false,"tickSize":4,"labelFontSize":13,"title":"Probability","titleFontSize":16,"titlePadding":9,"titleY":97}},"color":{"field":"g","type":"nominal","scale":{"domain":["Awake","Moderate","Deep"],"range":["#32ade6","#00b900","#ff7220"]},"legend":null}}},
{"mark":{"type":"rule","strokeWidth":1.6},"encoding":{"x":{"field":"s","type":"quantitative"},"y":{"field":"v","type":"quantitative"},"y2":{"field":"e"},"color":{"field":"g","type":"nominal","legend":null}}}
]}
],"spacing":157,"bounds":"flush"}
],"spacing":34.8,"bounds":"flush"}
]}
